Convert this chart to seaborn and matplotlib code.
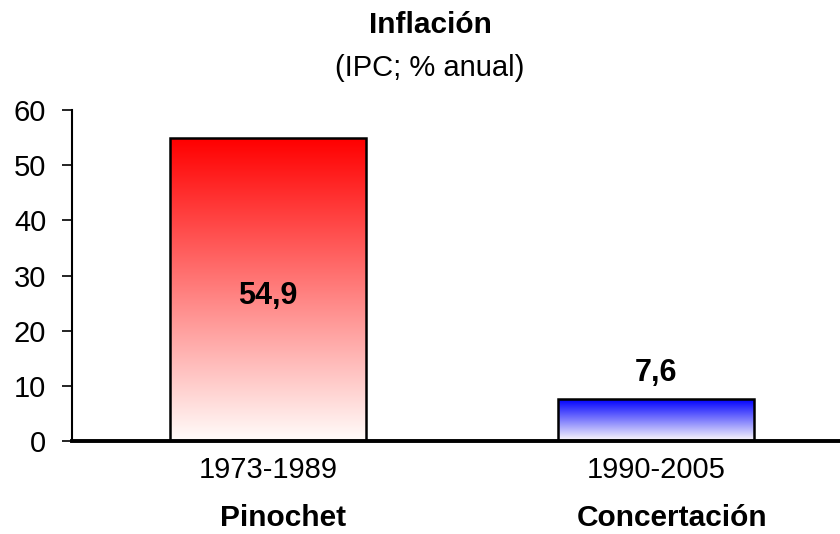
import numpy as np
import pandas as pd
import seaborn as sns
import matplotlib.pyplot as plt
from matplotlib.colors import LinearSegmentedColormap

# Data
periods = ["1973-1989", "1990-2005"]
governments = ["Pinochet", "Concertación"]
inflation = [54.9, 7.6]
labels = ["54,9", "7,6"]

df = pd.DataFrame({"period": periods, "inflation": inflation})

sns.set_style("white")
plt.rcParams["font.family"] = ["Liberation Sans", "DejaVu Sans"]
plt.rcParams["text.color"] = "black"
plt.rcParams["xtick.color"] = "black"
plt.rcParams["ytick.color"] = "black"

fig = plt.figure(figsize=(8.4, 5.34), dpi=100)
ax = fig.add_axes([0.0857, 0.174, 0.9143, 0.62])

sns.barplot(data=df, x="period", y="inflation", ax=ax, width=0.505,
            color="white", edgecolor="black", linewidth=1.8)

# gradient fills clipped to each bar
top_colors = ["#ff0000", "#0000ff"]
grad = np.linspace(0, 1, 256).reshape(-1, 1)
for patch, top in zip(ax.patches, top_colors):
    x0, y0 = patch.get_x(), patch.get_y()
    w, h = patch.get_width(), patch.get_height()
    cmap = LinearSegmentedColormap.from_list("g", ["#fffcfa", top])
    im = ax.imshow(grad, cmap=cmap, aspect="auto", origin="lower",
                   extent=[x0, x0 + w, y0, y0 + h], zorder=patch.get_zorder() + 0.1)
    im.set_clip_path(patch)
    patch.set_facecolor("none")
    patch.set_zorder(patch.get_zorder() + 0.2)

ax.set_xlim(-0.505, 1.474)
ax.set_ylim(0, 60)
ax.set_yticks(range(0, 61, 10))
ax.tick_params(axis="y", labelsize=21, length=7.5, width=1.2, direction="out",
               left=True, pad=11)
ax.tick_params(axis="x", labelsize=21, length=0, pad=11)
ax.set_xlabel("")
ax.set_ylabel("")

for s in ["top", "right"]:
    ax.spines[s].set_visible(False)
ax.spines["left"].set_linewidth(1.5)
ax.spines["left"].set_color("black")
ax.spines["bottom"].set_linewidth(2.8)
ax.spines["bottom"].set_color("black")

# value labels
ax.text(0, inflation[0] / 2 - 1.2, labels[0], ha="center", va="center",
        fontsize=22, fontweight="bold")
ax.text(1, inflation[1] + 4.8, labels[1], ha="center", va="center",
        fontsize=22, fontweight="bold")

# government names under the periods
for i, g in enumerate(governments):
    ax.text(i + 0.04, -0.233, g, transform=ax.get_xaxis_transform(),
            ha="center", va="center", fontsize=21.5, fontweight="bold")

fig.text(0.512, 0.953, "Inflación", ha="center", va="center",
         fontsize=21.5, fontweight="bold")
fig.text(0.512, 0.873, "(IPC; % anual)", ha="center", va="center", fontsize=21)

plt.savefig("out.png", dpi=100)
